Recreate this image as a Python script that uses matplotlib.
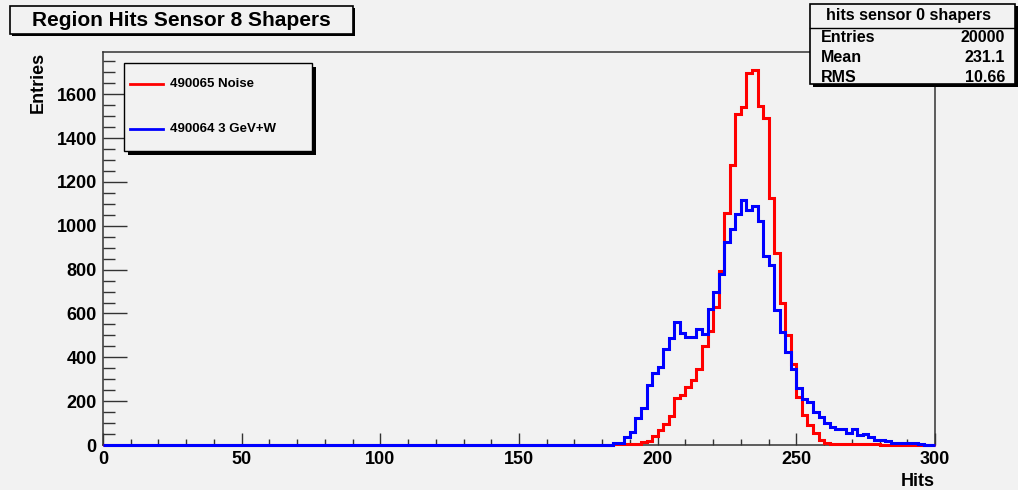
import numpy as np
import matplotlib
matplotlib.use("Agg")
import matplotlib.pyplot as plt
from matplotlib.patches import Rectangle
from matplotlib.lines import Line2D
from matplotlib.ticker import MultipleLocator

# ---- data -------------------------------------------------------------
hits_min, hits_max, bin_width = 0, 300, 2
first_filled_bin = 184          # lower edge of the first listed bin

# 490065 Noise, counts per 2-hit bin from 184 to 298
noise_counts = [3, 3, 3, 3, 3, 14, 17, 43, 68, 95,
                132, 215, 228, 266, 298, 345, 452, 520, 631, 796,
                1058, 1277, 1511, 1541, 1698, 1712, 1546, 1492, 1128, 877,
                647, 504, 369, 217, 136, 90, 55, 22, 7, 4,
                3, 3, 3, 3, 3, 3, 3, 3, 2, 2,
                2, 0, 0, 0, 0, 0, 0, 0]

# 490064 3 GeV+W, counts per 2-hit bin from 184 to 298
beam_counts = [10, 10, 37, 60, 121, 171, 272, 327, 355, 437,
               487, 559, 512, 493, 493, 529, 506, 622, 698, 779,
               924, 985, 1055, 1120, 1073, 1091, 1020, 863, 822, 616,
               515, 425, 346, 261, 212, 197, 151, 128, 101, 83,
               75, 75, 57, 71, 45, 49, 37, 22, 22, 19,
               11, 7, 7, 7, 7, 5, 2, 2]

series_labels = ["490065 Noise", "490064 3 GeV+W"]
series_colors = ["#ff0000", "#0000ff"]

title_text = "Region Hits Sensor 8 Shapers"
stats_title = "hits sensor 0 shapers"
stats_names = ["Entries", "Mean", "RMS"]
stats_values = ["20000", "231.1", "10.66"]

x_ticks = [0, 50, 100, 150, 200, 250, 300]
y_ticks = [0, 200, 400, 600, 800, 1000, 1200, 1400, 1600]

# ---- helpers -----------------------------------------------------------
W, H = 1018, 490
BG = "#f2f2f2"
FONT = "Liberation Sans"


def fx(x):
    return x / W


def fy(y):
    return 1 - y / H


def box(fig, x0, y0, x1, y1, shadow=0, lw=1.2):
    """Framed box given in pixel coordinates (top-left origin), with a drop shadow."""
    if shadow:
        fig.add_artist(Rectangle((fx(x0 + shadow), fy(y1 + shadow)),
                                 fx(x1 - x0), (y1 - y0) / H,
                                 transform=fig.transFigure,
                                 facecolor="black", edgecolor="black", lw=0, zorder=10))
    fig.add_artist(Rectangle((fx(x0), fy(y1)), fx(x1 - x0), (y1 - y0) / H,
                             transform=fig.transFigure,
                             facecolor=BG, edgecolor="black", lw=lw, zorder=11))


# ---- figure ------------------------------------------------------------
plt.rcParams["font.family"] = [FONT, "DejaVu Sans"]
plt.rcParams["font.weight"] = "bold"

fig = plt.figure(figsize=(W / 100, H / 100), dpi=100, facecolor=BG)

ax_left, ax_right, ax_top, ax_bottom = 103, 935, 52, 445
ax = fig.add_axes([fx(ax_left), fy(ax_bottom),
                   (ax_right - ax_left) / W, (ax_bottom - ax_top) / H])
ax.set_facecolor(BG)

edges = np.arange(hits_min, hits_max + bin_width, bin_width)
n_lead = (first_filled_bin - hits_min) // bin_width
noise_full = np.concatenate([np.zeros(n_lead), noise_counts])
beam_full = np.concatenate([np.zeros(n_lead), beam_counts])

for counts, color in zip([noise_full, beam_full], series_colors):
    ax.stairs(counts, edges, color=color, lw=2.2, zorder=3, clip_on=False)

y_px_per_unit = (445 - 94.3) / 1600
ax.set_xlim(hits_min, hits_max)
ax.set_ylim(0, (ax_bottom - ax_top) / y_px_per_unit)

for s in ax.spines.values():
    s.set_color("#333333")
    s.set_linewidth(1.1)

ax.set_xticks(x_ticks)
ax.set_yticks(y_ticks)
ax.xaxis.set_minor_locator(MultipleLocator(10))
ax.yaxis.set_minor_locator(MultipleLocator(50))
ax.tick_params(axis="both", which="both", direction="in", colors="#333333",
               width=1.0, labelcolor="black")
ax.tick_params(axis="y", which="major", length=17, pad=4.5, labelsize=13)
ax.tick_params(axis="y", which="minor", length=8.5)
ax.tick_params(axis="x", which="major", length=8.5, pad=4, labelsize=13)
ax.tick_params(axis="x", which="minor", length=4.3)
for lab in ax.get_xticklabels() + ax.get_yticklabels():
    lab.set_fontweight("bold")

# axis titles
fig.text(fx(38), fy(52), "Entries", rotation=90, ha="center", va="top",
         fontsize=13, fontweight="bold")
fig.text(fx(935), fy(486), "Hits", ha="right", va="baseline",
         fontsize=13, fontweight="bold")

# title box
box(fig, 9.5, 6, 352.5, 34, shadow=2.5)
fig.text(fx(181), fy(20), title_text, ha="center", va="center",
         fontsize=15, fontweight="bold", zorder=12)

# legend box
box(fig, 124, 63, 312, 151, shadow=4, lw=1.0)
for i, (label, color) in enumerate(zip(series_labels, series_colors)):
    yy = 84 + i * 45
    fig.add_artist(Line2D([fx(130), fx(163)], [fy(yy), fy(yy)],
                          transform=fig.transFigure, color=color, lw=2, zorder=12))
    fig.text(fx(170), fy(yy), label, ha="left", va="center",
             fontsize=9.5, fontweight="bold", zorder=12)

# statistics box
box(fig, 810, 4, 1015, 84.5, shadow=2.5, lw=1.2)
fig.add_artist(Line2D([fx(810), fx(1015)], [fy(28.3), fy(28.3)],
                      transform=fig.transFigure, color="black", lw=1.0, zorder=12))
fig.text(fx(909), fy(15.5), stats_title, ha="center", va="center",
         fontsize=11.5, fontweight="bold", zorder=12)
for i, (name, val) in enumerate(zip(stats_names, stats_values)):
    yy = 37.5 + i * 20
    fig.text(fx(821), fy(yy), name, ha="left", va="center",
             fontsize=11.5, fontweight="bold", zorder=12)
    fig.text(fx(1005), fy(yy), val, ha="right", va="center",
             fontsize=11.5, fontweight="bold", zorder=12)

fig.savefig("out.png", dpi=100, facecolor=BG)
